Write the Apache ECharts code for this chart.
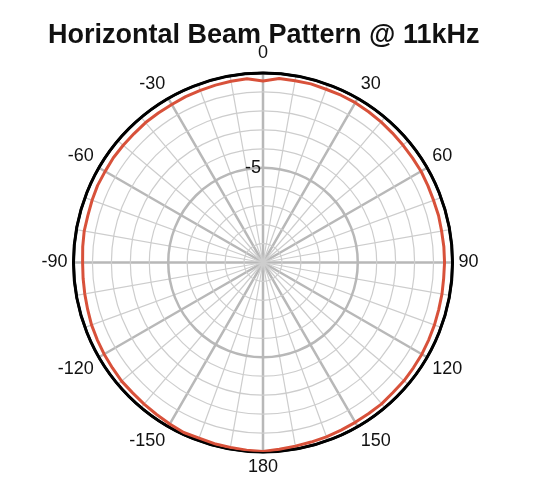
<!DOCTYPE html>
<html>
<head>
<meta charset="utf-8">
<script src="https://cdn.jsdelivr.net/npm/echarts@6/dist/echarts.min.js"></script>
<style>
html,body{margin:0;padding:0;background:#fff;}
#chart{width:544px;height:496px;}
</style>
</head>
<body>
<div id="chart"></div>
<script>
var titleText = 'Horizontal Beam Pattern @ 11kHz';
var angleTicks = [0, 30, 60, 90, 120, 150, 180, 210, 240, 270, 300, 330, 360];
var radiusTicks = [-10, -5, 0];
var angles = [-180,-175,-170,-165,-160,-155,-150,-145,-140,-135,-130,-125,-120,-115,-110,-105,-100,-95,-90,-85,-80,-75,-70,-65,-60,-55,-50,-45,-40,-35,-30,-25,-20,-15,-10,-5,0,5,10,15,20,25,30,35,40,45,50,55,60,65,70,75,80,85,90,95,100,105,110,115,120,125,130,135,140,145,150,155,160,165,170,175,180];
var levels = [-0.03,-0.05,-0.09,-0.10,-0.14,-0.10,-0.16,-0.21,-0.24,-0.27,-0.26,-0.30,-0.32,-0.35,-0.37,-0.42,-0.45,-0.47,-0.48,-0.45,-0.42,-0.43,-0.40,-0.37,-0.38,-0.36,-0.37,-0.38,-0.36,-0.37,-0.37,-0.34,-0.33,-0.31,-0.29,-0.27,-0.42,-0.25,-0.26,-0.24,-0.27,-0.26,-0.26,-0.29,-0.31,-0.34,-0.36,-0.37,-0.37,-0.40,-0.42,-0.41,-0.43,-0.42,-0.42,-0.43,-0.41,-0.40,-0.37,-0.35,-0.32,-0.31,-0.29,-0.30,-0.26,-0.27,-0.26,-0.24,-0.21,-0.19,-0.16,-0.11,-0.03];

// map -180..180 onto the 0..360 axis (0 at top, clockwise)
var seriesData = angles.map(function (a, i) { return [levels[i], a < 0 ? a + 360 : a]; });

var chart = echarts.init(document.getElementById('chart'), null, {renderer: 'canvas'});
chart.setOption({
  animation: false,
  backgroundColor: '#ffffff',
  title: {
    text: titleText,
    left: 43,
    top: 17,
    textStyle: {fontFamily: 'Liberation Sans', fontWeight: 'bold', fontSize: 27, color: '#111'}
  },
  polar: {center: [263, 262.5], radius: 189.5},
  angleAxis: {
    type: 'value',
    min: angleTicks[0],
    max: angleTicks[angleTicks.length - 1],
    interval: 30,
    startAngle: 90,
    clockwise: true,
    axisLine: {show: true, lineStyle: {color: '#000', width: 3}},
    axisTick: {show: false},
    minorTick: {show: false, splitNumber: 3},
    axisLabel: {
      show: true,
      margin: 6,
      fontFamily: 'Liberation Sans',
      fontSize: 18,
      color: '#111',
      formatter: function (v) {
        if (v === 360) return '';
        if (v === 0) return '{top|0}';
        return String(v > 180 ? v - 360 : v);
      },
      rich: {
        top: {fontFamily: 'Liberation Sans', fontSize: 18, color: '#111', padding: [0, 0, 5, 0]}
      }
    },
    splitLine: {show: true, lineStyle: {color: '#b8b8b8', width: 2.5}},
    minorSplitLine: {show: true, lineStyle: {color: '#cdcdcd', width: 1.2}}
  },
  radiusAxis: {
    type: 'value',
    min: radiusTicks[0],
    max: radiusTicks[radiusTicks.length - 1],
    interval: 5,
    axisLine: {show: false},
    axisTick: {show: false},
    minorTick: {show: false, splitNumber: 5},
    axisLabel: {
      show: true,
      margin: 2,
      fontFamily: 'Liberation Sans',
      fontSize: 18,
      color: '#111',
      formatter: function (v) { return v === -5 ? '-5' : ''; }
    },
    splitLine: {show: true, lineStyle: {color: ['#b8b8b8', '#b8b8b8', '#000'], width: 2.5}},
    minorSplitLine: {show: true, lineStyle: {color: '#cdcdcd', width: 1.2}},
    z: 1
  },
  series: [{
    type: 'line',
    coordinateSystem: 'polar',
    data: seriesData,
    showSymbol: false,
    smooth: false,
    lineStyle: {color: '#d8513a', width: 3},
    z: 5
  }]
});
</script>
</body>
</html>
